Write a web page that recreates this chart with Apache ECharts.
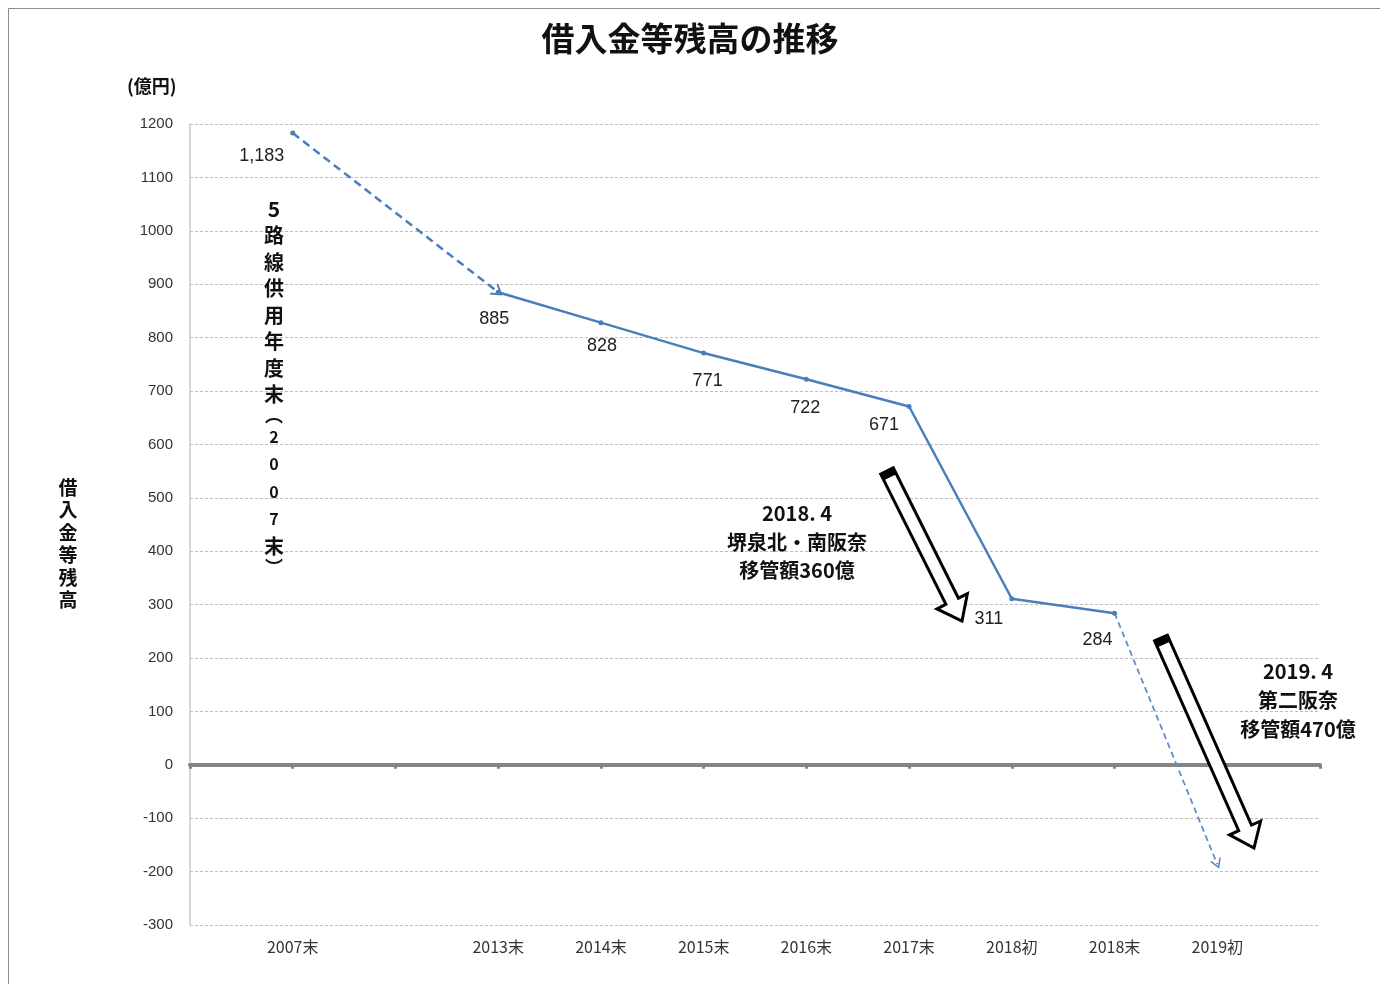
<!DOCTYPE html>
<html><head><meta charset="utf-8">
<script src="https://cdn.jsdelivr.net/npm/echarts@6/dist/echarts.min.js"></script>
<style>html,body{margin:0;padding:0;background:#fff}#c{width:1380px;height:984px}</style>
</head><body><div id="c"></div>
<script>
// ---- data ----
const categories = ['', '2007末', '', '2013末', '2014末', '2015末', '2016末', '2017末', '2018初', '2018末', '2019初', ''];
const balanceValues = [null, null, null, 885, 828, 771, 722, 671, 311, 284, null, null];
const startValues = [null, 1183, null, null, null, null, null, null, null, null, null, null];
const projectedValues = [null, null, null, null, null, null, null, null, null, 284, -186, null];
const yTicks = { min: -300, max: 1200, step: 100 };

// label offsets (styling, kept apart from data)
const labelOffsets = {1: [-31, 23], 3: [-4, 27], 4: [1, 23], 5: [4, 28], 6: [-1, 29], 7: [-25, 19], 8: [-23, 20], 9: [-17, 27]};

const blue = '#4A7EBB';
const fmt = v => Number(v).toLocaleString('en-US');

function withLabels(arr) {
  return arr.map((v, i) => v == null ? null : {
    value: v,
    label: { show: true, position: 'inside', offset: labelOffsets[i] || [0, 0] }
  });
}
function firstIdx(arr) { return arr.findIndex(v => v != null); }
function lastIdx(arr) { let k = -1; arr.forEach((v, i) => { if (v != null) k = i; }); return k; }

const chart = echarts.init(document.getElementById('c'), null, { renderer: 'canvas' });

// hollow arrow polygon in pixel space
function hollowArrow(tail, tip, w, h, L) {
  const dx = tip[0] - tail[0], dy = tip[1] - tail[1];
  const len = Math.hypot(dx, dy), ux = dx / len, uy = dy / len;
  const nx = -uy, ny = ux;
  const bx = tip[0] - ux * L, by = tip[1] - uy * L;
  return [
    [tail[0] + nx * w, tail[1] + ny * w],
    [bx + nx * w, by + ny * w],
    [bx + nx * h, by + ny * h],
    [tip[0], tip[1]],
    [bx - nx * h, by - ny * h],
    [bx - nx * w, by - ny * w],
    [tail[0] - nx * w, tail[1] - ny * w]
  ];
}
function tailCap(tail, tip, w) {
  const dx = tip[0] - tail[0], dy = tip[1] - tail[1];
  const len = Math.hypot(dx, dy), ux = dx / len, uy = dy / len;
  const nx = -uy, ny = ux, d = 7;
  return [
    [tail[0] + nx * w, tail[1] + ny * w],
    [tail[0] + nx * w + ux * d, tail[1] + ny * w + uy * d],
    [tail[0] - nx * w + ux * d, tail[1] - ny * w + uy * d],
    [tail[0] - nx * w, tail[1] - ny * w]
  ];
}
const arrows = [
  { tail: [887, 471], tip: [962, 621] },
  { tail: [1161, 638], tip: [1254, 848] }
];
const arrowGraphics = [];
arrows.forEach(a => {
  arrowGraphics.push({ type: 'polygon', shape: { points: hollowArrow(a.tail, a.tip, 7, 17, 22) },
    style: { fill: '#fff', stroke: '#000', lineWidth: 3, lineJoin: 'miter' }, z: 10 });
  arrowGraphics.push({ type: 'polygon', shape: { points: tailCap(a.tail, a.tip, 8) },
    style: { fill: '#000' }, z: 11 });
});

const cjk = '"Noto Sans CJK JP", "Noto Sans", sans-serif';
const num = '"Liberation Sans", "Noto Sans", sans-serif';
const chevron = 'path://M0,10 L5,0 L10,10 L8.4,10 L5,3.2 L1.6,10 Z';

const vertChars = ['5', '路', '線', '供', '用', '年', '度', '末', '︵', '2', '0', '0', '7', '末', '︶'];
const vertText = vertChars.map(ch => {
  if (ch === '︵' || ch === '︶') return '{p|' + ch + '}';
  if (/[0-9]/.test(ch) && ch !== '5') return '{d|' + ch + '}';
  if (ch === '5') return '{f|' + ch + '}';
  return '{c|' + ch + '}';
}).join('\n');

const option = {
  animation: false,
  backgroundColor: '#fff',
  grid: { left: 190, right: 60, top: 124, bottom: 59, containLabel: false },
  xAxis: [
    {
      type: 'category', data: categories, boundaryGap: false,
      axisLine: { show: false, onZero: false },
      axisTick: { show: false },
      axisLabel: { color: '#333', fontSize: 16, fontFamily: cjk, margin: 14, interval: 0 },
      splitLine: { show: false }
    },
    {
      type: 'category', data: categories, boundaryGap: false, position: 'bottom',
      axisLine: { show: true, onZero: true, lineStyle: { color: '#858585', width: 4 } },
      axisTick: { show: true, inside: false, length: 4, interval: 0, lineStyle: { color: '#858585', width: 3 } },
      axisLabel: { show: false },
      splitLine: { show: false }
    }
  ],
  yAxis: {
    type: 'value', min: yTicks.min, max: yTicks.max, interval: yTicks.step,
    axisLine: { show: true, lineStyle: { color: '#c8c8c8', width: 1.5 } },
    axisTick: { show: false },
    axisLabel: { color: '#333', fontSize: 15, fontFamily: num, margin: 17, formatter: v => String(v) },
    splitLine: { show: true, lineStyle: { color: '#bdbdbd', width: 1, type: [3, 2] } }
  },
  series: [
    {
      name: 'main', type: 'line', data: withLabels(balanceValues), xAxisIndex: 0,
      symbol: 'circle', symbolSize: 5, showSymbol: true, connectNulls: false,
      lineStyle: { color: blue, width: 2.5 }, itemStyle: { color: blue },
      label: { color: '#222', fontSize: 18, fontFamily: num, formatter: p => fmt(p.value) },
      z: 5
    },
    {
      name: 'start', type: 'line', data: withLabels(startValues), xAxisIndex: 0,
      symbol: 'circle', symbolSize: 5, lineStyle: { width: 0 }, itemStyle: { color: blue },
      label: { color: '#222', fontSize: 18, fontFamily: num, formatter: p => fmt(p.value) },
      markLine: {
        silent: true, symbol: ['none', chevron], symbolSize: [14, 11],
        label: { show: false },
        lineStyle: { color: blue, width: 2.5, type: [8, 5] },
        data: [[
          { coord: [firstIdx(startValues), startValues[firstIdx(startValues)]] },
          { coord: [firstIdx(balanceValues), balanceValues[firstIdx(balanceValues)]] }
        ]]
      },
      z: 4
    },
    {
      name: 'projected', type: 'line', data: projectedValues.map(() => null), xAxisIndex: 0,
      showSymbol: false,
      markLine: {
        silent: true, symbol: ['none', chevron], symbolSize: [12, 10],
        label: { show: false },
        lineStyle: { color: '#5B8FCB', width: 1.8, type: [6, 4] },
        data: [[
          { coord: [firstIdx(projectedValues), projectedValues[firstIdx(projectedValues)]] },
          { coord: [lastIdx(projectedValues), projectedValues[lastIdx(projectedValues)]] }
        ]]
      },
      z: 4
    }
  ],
  graphic: [
    { type: 'rect', shape: { x: 8.5, y: 8.5, width: 1400, height: 1000 }, style: { fill: 'none', stroke: '#8c8c8c', lineWidth: 1 }, z: 0, silent: true },
    { type: 'text', left: 'center', top: 22, style: { text: '借入金等残高の推移', font: 'bold 33px ' + cjk, fill: '#111' } , z: 20},
    { type: 'text', x: 127, y: 77, style: { text: '(億円)', font: 'bold 18px ' + cjk, fill: '#111' }, z: 20 },
    { type: 'text', x: 68, y: 544, style: { text: '借\n入\n金\n等\n残\n高', font: 'bold 19px ' + cjk, fill: '#111', align: 'center', verticalAlign: 'middle', lineHeight: 22.5 }, z: 20 },
    { type: 'text', x: 274, y: 196, style: {
        text: vertText, fill: '#111', align: 'center', verticalAlign: 'top',
        rich: {
          f: { font: 'bold 21px ' + cjk, lineHeight: 26.5, align: 'center' },
          c: { font: 'bold 20px ' + cjk, lineHeight: 26.5, align: 'center' },
          d: { font: 'bold 16px ' + cjk, lineHeight: 27.5, align: 'center' },
          p: { font: 'bold 18px ' + cjk, lineHeight: 15, align: 'center' }
        } }, z: 20 },
    { type: 'text', x: 797, y: 542, style: { text: '2018. 4\n堺泉北・南阪奈\n移管額360億', font: 'bold 20px ' + cjk, fill: '#111', align: 'center', verticalAlign: 'middle', lineHeight: 28.5 }, z: 20 },
    { type: 'text', x: 1298, y: 700, style: { text: '2019. 4\n第二阪奈\n移管額470億', font: 'bold 20px ' + cjk, fill: '#111', align: 'center', verticalAlign: 'middle', lineHeight: 29 }, z: 20 }
  ].concat(arrowGraphics)
};
chart.setOption(option);
</script>
</body></html>
